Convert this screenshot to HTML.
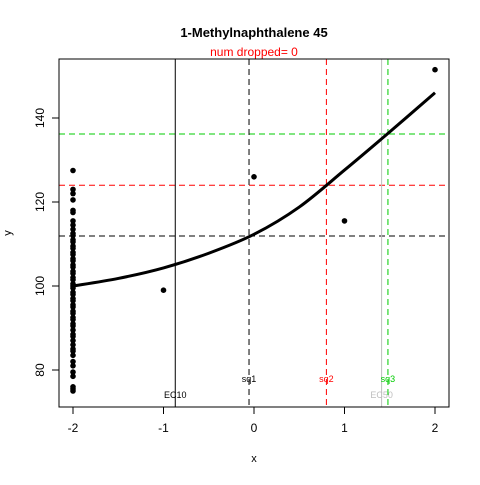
<!DOCTYPE html>
<html><head><meta charset="utf-8"><style>
body{margin:0;background:#fff}
text{font-family:"Liberation Sans",sans-serif}
</style></head><body>
<svg id="c" width="480" height="480" xmlns="http://www.w3.org/2000/svg">
<rect width="480" height="480" fill="#fff"/>
<text x="254" y="37" text-anchor="middle" font-size="13" font-weight="bold">1-Methylnaphthalene 45</text>
<text x="254" y="56" text-anchor="middle" font-size="12" fill="#f00">num dropped= 0</text>
<text x="254" y="462" text-anchor="middle" font-size="11">x</text>
<text x="11" y="233" text-anchor="middle" font-size="11" transform="rotate(-90 11 233)">y</text>
<g id="g"></g>
<rect x="59" y="59" width="390" height="348" fill="none" stroke="#000"/>
</svg>
<script>
const xTicks=[-2,-1,0,1,2];
const yTicks=[80,100,120,140];
const colX=[-2];
const colY=[127.5,123,122,120.5,118,117.5,115.5,114.5,113.5,112.5,112,111,110.5,109.5,109,108,107.5,106.5,106,105,104.5,103.5,103,102,101.5,100.5,100,99.5,98.5,98,97,96.5,95.5,95,94,93.5,92.5,92,91,90.5,89.5,88.5,88,87,86,85,84.5,83.5,82,81,79.5,78.5,76,75.5,75];
const ptX=[-1,0,1,2];
const ptY=[99,126,115.5,151.5];
const curveX=[-2,-1.5,-1,-0.5,0,0.5,1,1.5,2];
const curveY=[100,101.8,104.3,107.8,112.3,118.8,127.6,136.7,146];
const vNames=["EC10","sq1","sq2","EC50","sq3"];
const vVals=[-0.87,-0.055,0.8,1.41,1.48];
const vColors=["#000","#000","#f00","#bebebe","#0c0"];
const hVals=[111.9,124.0,136.2];
const hColors=["#000","#f00","#0c0"];
const X=v=>254+90.5*v, Y=v=>286-4.2*(v-100);
const NS="http://www.w3.org/2000/svg", g=document.getElementById('g');
function mk(t,a){const e=document.createElementNS(NS,t);for(const k in a)e.setAttribute(k,a[k]);g.appendChild(e);return e;}
xTicks.forEach(t=>{
 const l=mk('line',{x1:X(t),x2:X(t),y1:407,y2:414,stroke:'#000'});
 
 
 const s=mk('text',{x:X(t),y:432,'text-anchor':'middle','font-size':12});s.textContent=t;
 
 
});
yTicks.forEach(t=>{
 const l=mk('line',{x1:52,x2:59,y1:Y(t),y2:Y(t),stroke:'#000'});
 
 
 const s=mk('text',{x:44,y:Y(t),'text-anchor':'middle','font-size':12,transform:`rotate(-90 44 ${Y(t)})`});s.textContent=t;
 
 
});
hVals.forEach((v,i)=>{
 const l=mk('line',{x1:59,x2:449,y1:Y(v),y2:Y(v),stroke:hColors[i],'stroke-dasharray':'6,4'});
 
 
});
vVals.forEach((v,i)=>{
 const solid=vNames[i].startsWith('EC');
 const l=mk('line',{x1:X(v),x2:X(v),y1:59,y2:407,stroke:vColors[i]});
 if(!solid)l.setAttribute('stroke-dasharray','6,4');
 
 
 const s=mk('text',{x:X(v),y:solid?398:382,'text-anchor':'middle','font-size':9,fill:vColors[i]});s.textContent=vNames[i];
 
 
});
const P=curveX.map((x,i)=>[X(x),Y(curveY[i])]);
let d='M'+P[0][0]+','+P[0][1];
for(let i=0;i<P.length-1;i++){
 const p0=P[Math.max(0,i-1)],p1=P[i],p2=P[i+1],p3=P[Math.min(P.length-1,i+2)];
 d+=` C${p1[0]+(p2[0]-p0[0])/6},${p1[1]+(p2[1]-p0[1])/6} ${p2[0]-(p3[0]-p1[0])/6},${p2[1]-(p3[1]-p1[1])/6} ${p2[0]},${p2[1]}`;
}
const p=mk('path',{d:d,fill:'none',stroke:'#000','stroke-width':3});


colY.forEach(y=>{
 const c=mk('circle',{cx:X(colX[0]),cy:Y(y),r:2.8,fill:'#000'});
 
 
});
ptX.forEach((x,i)=>{
 const c=mk('circle',{cx:X(x),cy:Y(ptY[i]),r:2.8,fill:'#000'});
 
 
});
</script>
</body></html>
